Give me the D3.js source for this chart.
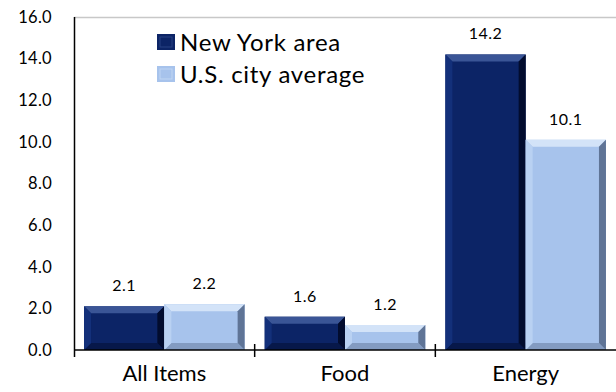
<!DOCTYPE html>
<html>
<head>
<meta charset="utf-8">
<script src="https://cdn.jsdelivr.net/npm/d3@7"></script>
<style>
  body { margin: 0; background: #fff; }
  svg { display: block; font-family: Lato, "Open Sans", sans-serif; }
</style>
</head>
<body>
<svg id="chart" width="616" height="392"></svg>
<script>
// chart data
var categories = ["All Items", "Food", "Energy"];
var seriesNames = ["New York area", "U.S. city average"];
var nyValues = [2.1, 1.6, 14.2];
var usValues = [2.2, 1.2, 10.1];
var yTicks = [0, 2, 4, 6, 8, 10, 12, 14, 16];

// colours: main, top bevel, right/bottom bevel, left bevel
var palette = [
  { main: "#0c2466", top: "#3a5596", dark: "#020c2e", left: "#13307a" },
  { main: "#a7c3ec", top: "#d3e3f8", dark: "#5f7496", left: "#b9d1f2" }
];

var svg = d3.select("#chart");
var margin = { left: 74, top: 17, right: 0, bottom: 42 };
var width = 616 - margin.left - margin.right;
var height = 392 - margin.top - margin.bottom;

var x = d3.scaleBand().domain(categories).range([0, width]).paddingInner(0).paddingOuter(0);
var xInner = d3.scaleBand().domain(seriesNames).range([0, x.bandwidth()]).paddingOuter(0.125).paddingInner(0);
var y = d3.scaleLinear().domain([0, 16]).range([height, 0]);

var g = svg.append("g").attr("transform", `translate(${margin.left},${margin.top})`);

// top border
g.append("line")
  .attr("x1", 0).attr("x2", width)
  .attr("y1", 0.5).attr("y2", 0.5)
  .attr("stroke", "#c8c8c8").attr("stroke-width", 1.5);

// y tick labels
g.append("g").selectAll("text")
  .data(yTicks)
  .enter()
  .append("text")
  .attr("x", -22)
  .attr("y", d => y(d))
  .attr("dy", "0.35em")
  .attr("text-anchor", "end")
  .attr("font-size", 16.5)
  .attr("letter-spacing", 0.3)
  .attr("fill", "#000")
  .text(d => d.toFixed(1));

// bars
var rows = categories.map((c, i) => ({ cat: c, vals: [nyValues[i], usValues[i]] }));
var bevel = 7;

var groups = g.append("g").selectAll("g")
  .data(rows)
  .enter()
  .append("g")
  .attr("transform", d => `translate(${x(d.cat)},0)`);

groups.each(function(row) {
  var grp = d3.select(this);
  row.vals.forEach(function(v, si) {
    var col = palette[si];
    var x0 = xInner(seriesNames[si]);
    var x1 = x0 + xInner.bandwidth();
    var y0 = y(v);
    var y1 = y(0);
    var b = Math.min(bevel, (y1 - y0) / 2);
    var bar = grp.append("g");
    bar.append("rect")
      .attr("x", x0).attr("y", y0)
      .attr("width", x1 - x0).attr("height", y1 - y0)
      .attr("fill", col.main);
    // bevel faces
    var faces = [
      { pts: [[x0, y0], [x1, y0], [x1 - b, y0 + b], [x0 + b, y0 + b]], fill: col.top },
      { pts: [[x1, y0], [x1, y1], [x1 - b, y1 - b], [x1 - b, y0 + b]], fill: col.dark },
      { pts: [[x0, y1], [x1, y1], [x1 - b, y1 - b], [x0 + b, y1 - b]], fill: col.dark, op: 0.5 },
      { pts: [[x0, y0], [x0 + b, y0 + b], [x0 + b, y1 - b], [x0, y1]], fill: col.left }
    ];
    bar.selectAll("polygon")
      .data(faces)
      .enter()
      .append("polygon")
      .attr("points", d => d.pts.map(p => p.join(",")).join(" "))
      .attr("fill", d => d.fill)
      .attr("opacity", d => d.op || 1);
    // value label
    grp.append("text")
      .attr("x", (x0 + x1) / 2)
      .attr("y", y0 - 15)
      .attr("text-anchor", "middle")
      .attr("font-size", 16)
      .attr("letter-spacing", 0.5)
      .attr("fill", "#000")
      .text(v.toFixed(1));
  });
});

// axes lines
g.append("line")
  .attr("x1", 0.5).attr("x2", 0.5)
  .attr("y1", 0).attr("y2", height + 7)
  .attr("stroke", "#000").attr("stroke-width", 1.5);
g.append("line")
  .attr("x1", 0).attr("x2", width)
  .attr("y1", height).attr("y2", height)
  .attr("stroke", "#000").attr("stroke-width", 1.5);

// category separators
g.append("g").selectAll("line")
  .data(categories.slice(1))
  .enter()
  .append("line")
  .attr("x1", d => x(d)).attr("x2", d => x(d))
  .attr("y1", height - 6).attr("y2", height + 7)
  .attr("stroke", "#000").attr("stroke-width", 1.5);

// category labels
g.append("g").selectAll("text")
  .data(categories)
  .enter()
  .append("text")
  .attr("x", d => x(d) + x.bandwidth() / 2)
  .attr("y", height + 31)
  .attr("text-anchor", "middle")
  .attr("font-size", 22)
  .attr("fill", "#000")
  .text(d => d);

// legend
var legend = svg.append("g").attr("transform", "translate(157,34)");
var items = legend.selectAll("g")
  .data(seriesNames)
  .enter()
  .append("g")
  .attr("transform", (d, i) => `translate(0,${i * 32})`);
items.append("rect")
  .attr("width", 18).attr("height", 16)
  .attr("fill", (d, i) => palette[i].main);
items.append("rect")
  .attr("x", 3).attr("y", 3)
  .attr("width", 12).attr("height", 10)
  .attr("fill", "none")
  .attr("stroke", (d, i) => palette[i].top)
  .attr("stroke-width", 1)
  .attr("opacity", 0.6);
items.append("text")
  .attr("x", 23).attr("y", 8)
  .attr("dy", "0.36em")
  .attr("font-size", 24)
  .attr("letter-spacing", 0.7)
  .attr("fill", "#000")
  .text(d => d);
</script>
</body>
</html>
